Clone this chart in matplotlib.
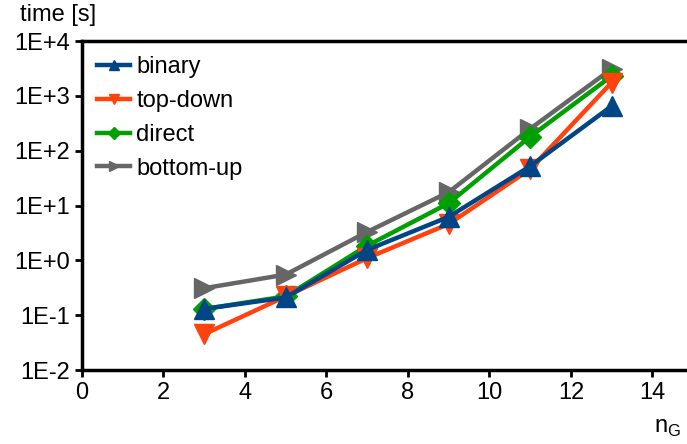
import matplotlib
matplotlib.use("Agg")
import matplotlib.pyplot as plt

plt.rcParams['font.family'] = ['Liberation Sans', 'DejaVu Sans']

n_g = [3, 5, 7, 9, 11, 13]
binary = [0.13, 0.21, 1.55, 6.2, 52, 650]
top_down = [0.045, 0.22, 1.1, 4.6, 46, 1750]
direct = [0.13, 0.22, 1.85, 11, 180, 2300]
bottom_up = [0.31, 0.55, 3.3, 17.5, 250, 3100]

series = [
    ("binary", binary, "#004586", "^", 4),
    ("top-down", top_down, "#ff420e", "v", 3),
    ("direct", direct, "#00a000", "D", 2),
    ("bottom-up", bottom_up, "#666666", ">", 1),
]

fig = plt.figure(figsize=(6.87, 4.44), dpi=100)
ax = fig.add_axes([82 / 687, 1 - 370 / 444, 1 - 82 / 687, (370 - 41) / 444])

for name, vals, col, mk, z in series:
    ms = 11 if mk == "D" else 14
    ax.plot(n_g, vals, color=col, marker=mk, markersize=ms, linewidth=3.2,
            label=name, zorder=z, clip_on=False)

ax.set_yscale("log")
ax.set_ylim(1e-2, 1e4)
ax.set_xlim(0, 14.85)
ax.set_xticks(range(0, 15, 2))
ax.set_yticks([1e-2, 1e-1, 1e0, 1e1, 1e2, 1e3, 1e4])
ax.set_yticklabels(["1E-2", "1E-1", "1E+0", "1E+1", "1E+2", "1E+3", "1E+4"])
ax.minorticks_off()
ax.tick_params(labelsize=17, width=2, length=5, direction="out")

for s in ["left", "bottom", "top"]:
    ax.spines[s].set_linewidth(2.5)
ax.spines["right"].set_visible(False)

leg = ax.legend(loc="upper left", frameon=False, fontsize=17, handlelength=1.4,
                handletextpad=0.25, labelspacing=0.5, markerscale=0.55,
                borderaxespad=0.25, bbox_to_anchor=(0.0, 1.0))

fig.text(20 / 687, 1 - 15 / 444, "time [s]", fontsize=17, va="center", ha="left")
fig.text(668 / 687, 1 - 428 / 444, "n$_\\mathregular{G}$", fontsize=17, va="center", ha="center")

fig.savefig("out.png", dpi=100)
